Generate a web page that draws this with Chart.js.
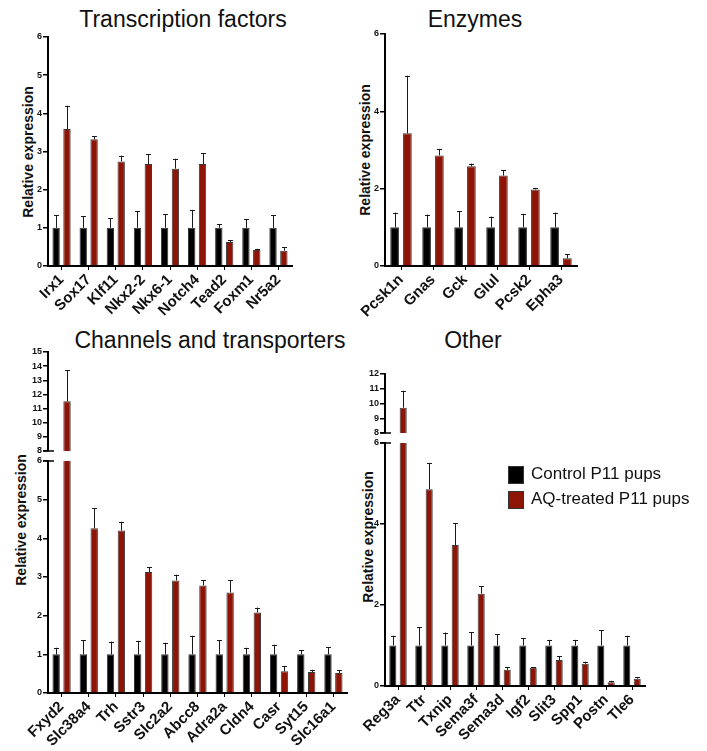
<!DOCTYPE html>
<html>
<head>
<meta charset="utf-8">
<script src="https://cdn.jsdelivr.net/npm/chart.js@4.4.0/dist/chart.umd.min.js"></script>
<style>
  body { margin: 0; background: #fff; }
  #wrap { position: relative; width: 707px; height: 751px; overflow: hidden; font-family: "Liberation Sans", Arial, sans-serif; }
  canvas { position: absolute; }
  .title { position: absolute; font-size: 23px; color: #111; white-space: nowrap; transform: translate(-50%, -50%); }
  .ytitle { position: absolute; font-size: 14px; font-weight: bold; color: #111; white-space: nowrap; transform: translate(-50%, -50%) rotate(-90deg); }
  .leg { position: absolute; left: 508px; font-size: 17px; color: #111; white-space: nowrap; }
  .leg span { display: inline-block; width: 14px; height: 16px; border: 1px solid #333; vertical-align: middle; margin-right: 7px; }
</style>
</head>
<body>
<div id="wrap">
  <div class="title" style="left:183px; top:19px;">Transcription factors</div>
  <div class="title" style="left:475px; top:19px;">Enzymes</div>
  <div class="title" style="left:210px; top:340px;">Channels and transporters</div>
  <div class="title" style="left:473px; top:340px;">Other</div>

  <div class="ytitle" style="left:28px; top:152px;">Relative expression</div>
  <div class="ytitle" style="left:365px; top:150px;">Relative expression</div>
  <div class="ytitle" style="left:21px; top:520px;">Relative expression</div>
  <div class="ytitle" style="left:368px; top:537px;">Relative expression</div>

  <canvas id="tf" width="300" height="330" style="left:0; top:0;"></canvas>
  <canvas id="enz" width="260" height="330" style="left:340px; top:0;"></canvas>
  <canvas id="chUp" width="360" height="118" style="left:0; top:340px;"></canvas>
  <canvas id="chLow" width="360" height="296" style="left:0; top:455px;"></canvas>
  <canvas id="otUp" width="320" height="78" style="left:340px; top:362px;"></canvas>
  <canvas id="otLow" width="320" height="314" style="left:340px; top:437px;"></canvas>

  <div class="leg" style="top:464px;"><span style="background:#000;"></span>Control P11 pups</div>
  <div class="leg" style="top:489px;"><span style="background:#8e1406;"></span>AQ-treated P11 pups</div>
</div>

<script>
// Transcription factors
const tfLabels = ['Irx1', 'Sox17', 'Klf11', 'Nkx2-2', 'Nkx6-1', 'Notch4', 'Tead2', 'Foxm1', 'Nr5a2'];
const tfCtrl = [1, 1, 1, 1, 1, 1, 1, 1, 1];
const tfCtrlErr = [0.33, 0.31, 0.25, 0.43, 0.36, 0.47, 0.10, 0.22, 0.33];
const tfAq = [3.59, 3.32, 2.74, 2.67, 2.55, 2.67, 0.63, 0.42, 0.40];
const tfAqErr = [0.61, 0.08, 0.15, 0.26, 0.26, 0.28, 0.05, 0.03, 0.09];

// Enzymes
const enzLabels = ['Pcsk1n', 'Gnas', 'Gck', 'Glul', 'Pcsk2', 'Epha3'];
const enzCtrl = [1, 1, 1, 1, 1, 1];
const enzCtrlErr = [0.38, 0.33, 0.41, 0.28, 0.35, 0.38];
const enzAq = [3.43, 2.86, 2.58, 2.34, 1.98, 0.20];
const enzAqErr = [1.49, 0.17, 0.07, 0.13, 0.04, 0.10];

// Channels and transporters
const chLabels = ['Fxyd2', 'Slc38a4', 'Trh', 'Sstr3', 'Slc2a2', 'Abcc8', 'Adra2a', 'Cldn4', 'Casr', 'Syt15', 'Slc16a1'];
const chCtrl = [1, 1, 1, 1, 1, 1, 1, 1, 1, 1, 1];
const chCtrlErr = [0.17, 0.36, 0.33, 0.35, 0.30, 0.48, 0.36, 0.17, 0.25, 0.11, 0.19];
const chAq = [11.51, 4.26, 4.20, 3.13, 2.91, 2.78, 2.60, 2.08, 0.56, 0.54, 0.52];
const chAqErr = [2.20, 0.52, 0.23, 0.13, 0.15, 0.14, 0.32, 0.13, 0.14, 0.06, 0.07];

// Other
const otLabels = ['Reg3a', 'Ttr', 'Txnip', 'Sema3f', 'Sema3d', 'Igf2', 'Slit3', 'Spp1', 'Postn', 'Tle6'];
const otCtrl = [1, 1, 1, 1, 1, 1, 1, 1, 1, 1];
const otCtrlErr = [0.24, 0.45, 0.32, 0.33, 0.28, 0.18, 0.14, 0.14, 0.38, 0.24];
const otAq = [9.71, 4.86, 3.48, 2.28, 0.40, 0.45, 0.64, 0.55, 0.09, 0.18];
const otAqErr = [1.15, 0.65, 0.54, 0.18, 0.06, 0.01, 0.09, 0.05, 0.04, 0.03];

const ctrlColor = '#000000';
const aqColor = '#8e1406';
const FONT = "'Liberation Sans', Arial, sans-serif";

// upward error bars, placed with the chart's own y scale
const errorBars = {
  id: 'errorBars',
  afterDatasetsDraw(chart) {
    const ctx = chart.ctx;
    const y = chart.scales.y;
    chart.data.datasets.forEach((ds, i) => {
      const meta = chart.getDatasetMeta(i);
      meta.data.forEach((bar, j) => {
        const v = ds.data[j];
        if (v == null || v > y.max) return;
        const top = v + ds.err[j];
        const y0 = y.getPixelForValue(v);
        const y1 = y.getPixelForValue(Math.min(top, y.max));
        ctx.save();
        ctx.strokeStyle = '#1a1a1a';
        ctx.lineWidth = 1;
        ctx.beginPath();
        ctx.moveTo(Math.round(bar.x) + 0.5, y0);
        ctx.lineTo(Math.round(bar.x) + 0.5, y1);
        ctx.moveTo(Math.round(bar.x) - 2, Math.round(y1) + 0.5);
        ctx.lineTo(Math.round(bar.x) + 3, Math.round(y1) + 0.5);
        ctx.stroke();
        ctx.restore();
      });
    });
  }
};

// little cross marks where an axis is broken
const breakMark = {
  id: 'breakMark',
  afterDraw(chart, args, opts) {
    if (!opts.at) return;
    const ctx = chart.ctx;
    const y = chart.scales.y;
    const py = opts.at === 'bottom' ? y.bottom : y.top;
    ctx.save();
    ctx.strokeStyle = '#000';
    ctx.lineWidth = 1.5;
    ctx.beginPath();
    ctx.moveTo(y.right - 5, py);
    ctx.lineTo(y.right + 6, py);
    ctx.stroke();
    ctx.restore();
  }
};

function barPanel(id, labels, ctrl, ctrlErr, aq, aqErr, cfg) {

  const showX = cfg.xh > 0;

  const ctx =
    document
      .getElementById(id)
      .getContext('2d');

  return new Chart(ctx, {

    type: 'bar',

    data: {

      labels: labels,

      datasets: [
        {
          label: 'Control P11 pups',
          data: ctrl.map(v => (v >= cfg.min ? v : null)),
          err: ctrlErr,
          backgroundColor: ctrlColor,
          borderColor: '#333',
          borderWidth: 1,
          categoryPercentage: 0.8,
          barPercentage: 0.68,
          clip: 0
        },
        {
          label: 'AQ-treated P11 pups',
          data: aq.map(v => (v >= cfg.min ? v : null)),
          err: aqErr,
          backgroundColor: aqColor,
          borderColor: '#3a3a3a',
          borderWidth: 1,
          categoryPercentage: 0.8,
          barPercentage: 0.68,
          clip: 0
        }
      ]
    },

    options: {

      responsive: false,
      animation: false,
      devicePixelRatio: 1,

      layout: {
        padding: { left: 0, right: cfg.padRight, top: cfg.padTop, bottom: cfg.padBottom || 0 }
      },

      plugins: {
        legend: { display: false },
        tooltip: { enabled: false },
        breakMark: { at: cfg.breakAt || null }
      },

      scales: {

        x: {
          display: showX,
          grid: {
            display: true,
            drawOnChartArea: false,
            offset: false,
            tickLength: 4,
            color: '#000',
            lineWidth: 1
          },
          border: { display: true, color: '#000', width: 2 },
          ticks: {
            autoSkip: false,
            minRotation: 45,
            maxRotation: 45,
            padding: 1,
            color: '#111',
            font: { family: FONT, size: 15, weight: 'bold' }
          },
          afterFit(s) {
            s.height = cfg.xh;
            s.paddingLeft = 0;
            s.paddingRight = 0;
          }
        },

        y: {
          min: cfg.min,
          max: cfg.max,
          grid: {
            display: true,
            drawOnChartArea: false,
            tickLength: 5,
            color: '#000',
            lineWidth: 1.5
          },
          border: { display: true, color: '#000', width: 2 },
          ticks: {
            stepSize: cfg.step,
            autoSkip: false,
            padding: 1,
            color: '#111',
            font: { family: FONT, size: cfg.tickSize, weight: 'bold' }
          },
          afterFit(s) {
            s.width = cfg.yw;
            s.paddingTop = 0;
            s.paddingBottom = 0;
          }
        }
      }
    },

    plugins: [errorBars, breakMark]
  });
}

barPanel('tf', tfLabels, tfCtrl, tfCtrlErr, tfAq, tfAqErr,
  { min: 0, max: 6, step: 1, yw: 48, padTop: 37, padRight: 8, xh: 64, tickSize: 9 });

barPanel('enz', enzLabels, enzCtrl, enzCtrlErr, enzAq, enzAqErr,
  { min: 0, max: 6, step: 2, yw: 45, padTop: 34, padRight: 23, xh: 64, tickSize: 9 });

barPanel('chUp', chLabels, chCtrl, chCtrlErr, chAq, chAqErr,
  { min: 8, max: 15, step: 1, yw: 48, padTop: 12, padRight: 13, padBottom: 7, xh: 0, tickSize: 9, breakAt: 'bottom' });

barPanel('chLow', chLabels, chCtrl, chCtrlErr, chAq, chAqErr,
  { min: 0, max: 6, step: 1, yw: 48, padTop: 6, padRight: 13, xh: 58, tickSize: 9, breakAt: 'top' });

barPanel('otUp', otLabels, otCtrl, otCtrlErr, otAq, otAqErr,
  { min: 8, max: 12, step: 1, yw: 45, padTop: 12, padRight: 15, padBottom: 7, xh: 0, tickSize: 9, breakAt: 'bottom' });

barPanel('otLow', otLabels, otCtrl, otCtrlErr, otAq, otAqErr,
  { min: 0, max: 6, step: 2, yw: 45, padTop: 6, padRight: 15, xh: 65, tickSize: 9, breakAt: 'top' });
</script>
</body>
</html>
